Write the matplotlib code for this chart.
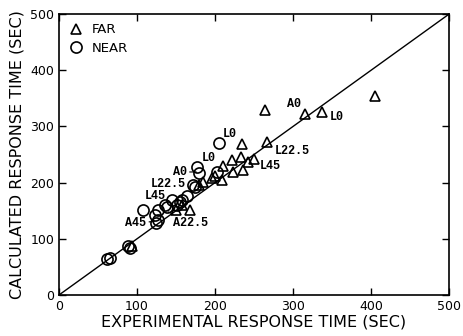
import matplotlib.pyplot as plt

# FAR (triangles)
far_x = [405, 315, 337, 264, 267, 250, 235, 222, 233, 242, 210, 223, 236,
         185, 196, 209, 200, 168, 93, 150, 158, 180]
far_y = [355, 322, 326, 329, 272, 242, 269, 240, 246, 237, 230, 219, 222,
         201, 208, 205, 212, 151, 88, 152, 160, 196]

# NEAR (circles)
near_x = [205, 177, 179, 202, 172, 174, 164, 158, 151, 145, 155, 136, 138,
          108, 127, 123, 127, 125, 65, 61, 91, 88]
near_y = [270, 228, 217, 219, 196, 192, 176, 169, 160, 169, 165, 160, 157,
          151, 151, 142, 133, 128, 66, 64, 84, 87]

# annotations: text, text position, point
labels = [
    ("L0", 210, 286, None),
    ("L0", 183, 244, None),
    ("A0", 146, 219, (176, 219)),
    ("L22.5", 117, 198, None),
    ("L45", 110, 176, None),
    ("A45", 85, 128, (122, 131)),
    ("A22.5", 146, 128, (140, 148)),
    ("A0", 292, 340, None),
    ("L0", 347, 317, None),
    ("L22.5", 277, 256, None),
    ("L45", 258, 230, None),
]

fig = plt.figure(figsize=(4.63, 3.36), dpi=100)
ax = fig.add_axes([0.1274, 0.122, 0.8424, 0.836])

ax.plot([0, 500], [0, 500], color='black', lw=1.0)
ax.plot(far_x, far_y, '^', ms=7.5, mfc='none', mec='black', mew=1.2,
        linestyle='none', label='FAR')
ax.plot(near_x, near_y, 'o', ms=8, mfc='none', mec='black', mew=1.2,
        linestyle='none', label='NEAR')

for txt, tx, ty, pt in labels:
    if pt is None:
        ax.text(tx, ty, txt, fontsize=8.5, family='Liberation Mono',
                weight='bold', va='center', ha='left')
    else:
        ax.annotate(txt, xy=pt, xytext=(tx, ty), fontsize=8.5,
                    family='Liberation Mono', weight='bold',
                    va='center', ha='left',
                    arrowprops=dict(arrowstyle='-', lw=0.8, color='black',
                                    shrinkA=0, shrinkB=0))

ax.set_xlim(0, 500)
ax.set_ylim(0, 500)
ax.set_xticks([0, 100, 200, 300, 400, 500])
ax.set_yticks([0, 100, 200, 300, 400, 500])
ax.tick_params(direction='in', length=5, top=True, right=True,
               labelsize=9, width=1)
for s in ax.spines.values():
    s.set_linewidth(1.2)

ax.set_xlabel('EXPERIMENTAL RESPONSE TIME (SEC)', fontsize=11.5, labelpad=1)
ax.set_ylabel('CALCULATED RESPONSE TIME (SEC)', fontsize=11.5, labelpad=4)

ax.legend(loc='upper left', frameon=False, fontsize=9.5, handletextpad=0.6,
          borderaxespad=0.3, labelspacing=0.4, handlelength=1.2)

fig.savefig('out.png', dpi=100)
